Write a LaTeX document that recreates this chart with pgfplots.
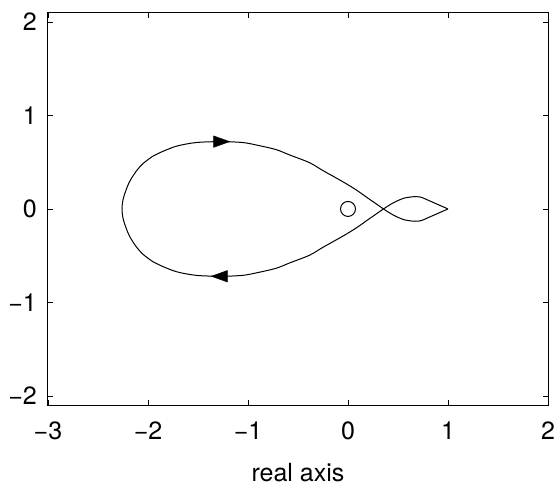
\documentclass[border=0pt]{standalone}
\usepackage{fontspec}
\setmainfont{TeX Gyre Heros}
\usepackage{pgfplots}
\pgfplotsset{compat=1.18}

\begin{document}
\begin{tikzpicture}
  \begin{axis}[
      scale only axis, width=500pt, height=392.7pt,
      xmin=-3, xmax=2, ymin=-2.1, ymax=2.1,
      xtick={-3,-2,-1,0,1,2}, ytick={-2,-1,0,1,2},
      xticklabels={−3,−2,−1,0,1,2}, yticklabels={−2,−1,0,1,2},
      tick align=inside, major tick length=5pt,
      axis line style={line width=1pt}, tick style={line width=0.8pt, black},
      font=\fontsize{25}{30}\selectfont,
      xticklabel style={anchor=base, inner sep=0pt, yshift=-34pt},
      yticklabel style={anchor=east, inner sep=0pt, xshift=-11pt},
      xlabel={real axis},
      xlabel style={at={(axis description cs:0.5,0)}, anchor=base,
                    inner sep=0pt, yshift=-76pt},
      clip=false,
    ]
    % Nyquist curve, starting and ending at the tip (1,0)
    \addplot[black, line width=1pt, smooth, tension=0.5] coordinates {
      (1.0,0) (0.9,0.047) (0.8,0.094) (0.735,0.124) (0.69,0.131) (0.645,0.13)
      (0.56,0.115) (0.48,0.08) (0.42,0.045) (0.355,0)
      (0.2,-0.115) (0.08,-0.205) (-0.05,-0.29) (-0.25,-0.41) (-0.385,-0.495)
      (-0.585,-0.578) (-0.72,-0.635) (-0.9,-0.68) (-1.05,-0.71) (-1.27,-0.72)
      (-1.52,-0.71) (-1.72,-0.67) (-1.885,-0.60) (-1.95,-0.565) (-2.05,-0.485)
      (-2.12,-0.40) (-2.19,-0.28) (-2.245,-0.12) (-2.26,0)
      (-2.245,0.12) (-2.19,0.28) (-2.12,0.40) (-2.05,0.485) (-1.95,0.565)
      (-1.885,0.60) (-1.72,0.67) (-1.52,0.71) (-1.27,0.72) (-1.05,0.71)
      (-0.9,0.68) (-0.72,0.635) (-0.585,0.578) (-0.385,0.495) (-0.25,0.41)
      (-0.05,0.29) (0.08,0.205) (0.2,0.115) (0.355,0)
      (0.42,-0.045) (0.48,-0.08) (0.56,-0.115) (0.645,-0.13) (0.69,-0.131)
      (0.735,-0.124) (0.8,-0.094) (0.9,-0.047) (1.0,0)
    };
    % direction arrows
    \addplot[only marks, mark=triangle*, mark size=10.7pt,
             mark options={rotate=-90, xscale=0.62, fill=black, draw=black}]
      coordinates {(-1.29,0.72)};
    \addplot[only marks, mark=triangle*, mark size=10.7pt,
             mark options={rotate=90, xscale=0.62, fill=black, draw=black}]
      coordinates {(-1.26,-0.72)};
    % open circle at the origin
    \addplot[only marks, mark=o, mark size=7.5pt, mark options={line width=1pt, black}]
      coordinates {(0,0)};
  \end{axis}
  \path ([xshift=-48pt,yshift=-80.6pt]current axis.south west)
        rectangle ([xshift=12pt,yshift=12.6pt]current axis.north east);
\end{tikzpicture}
\end{document}
